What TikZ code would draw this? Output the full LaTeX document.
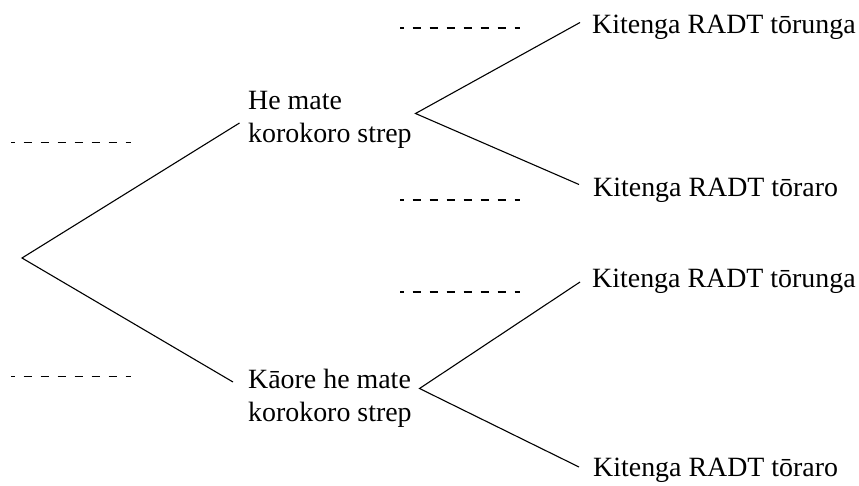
\documentclass[tikz,border=0pt]{standalone}
\usepackage{fontspec}
\setmainfont{Liberation Serif}
\begin{document}
\begin{tikzpicture}[x=1pt,y=-1pt,
  branch/.style={line width=1.1pt},
  guide/.style={line width=1.1pt, dash pattern=on 8.5pt off 8.5pt, dash phase=4.5pt},
  lab/.style={inner sep=0pt, anchor=base west, align=left, font=\fontsize{27.9}{33.5}\selectfont}]
\useasboundingbox (0,0) rectangle (859,485);
% branch points
\coordinate (root) at (22,258);
\coordinate (up) at (239.5,123);
\coordinate (dn) at (233,382);
\coordinate (uv) at (415.5,113.5);
\coordinate (dv) at (419.5,388.5);
\coordinate (uu) at (580,22.5);
\coordinate (ud) at (579,184.5);
\coordinate (du) at (580,282);
\coordinate (dd) at (579,467);
% labels (base = baseline of last line)
\node[lab] (hm) at (248,142.5) {He mate\\korokoro strep};
\node[lab] (km) at (248,421.5) {Kāore he mate\\korokoro strep};
\node[lab] (t1) at (592,33) {Kitenga RADT tōrunga};
\node[lab] (t2) at (593,196) {Kitenga RADT tōraro};
\node[lab] (t3) at (592,287) {Kitenga RADT tōrunga};
\node[lab] (t4) at (593,476) {Kitenga RADT tōraro};
% branches
\draw[branch] (up) -- (root) -- (dn);
\draw[branch] (uu) -- (uv) -- (ud);
\draw[branch] (du) -- (dv) -- (dd);
% dashed guides
\coordinate (g1a) at (11,142.3); \coordinate (g1b) at (131,142.3);
\coordinate (g2a) at (11,376.3); \coordinate (g2b) at (131,376.3);
\coordinate (g3a) at (400,28); \coordinate (g3b) at (520,28);
\coordinate (g4a) at (400,200); \coordinate (g4b) at (520,200);
\coordinate (g5a) at (400,292); \coordinate (g5b) at (520,292);
\draw[guide] (g1a) -- (g1b);
\draw[guide] (g2a) -- (g2b);
\draw[guide] (g3a) -- (g3b);
\draw[guide] (g4a) -- (g4b);
\draw[guide] (g5a) -- (g5b);
\end{tikzpicture}
\end{document}
